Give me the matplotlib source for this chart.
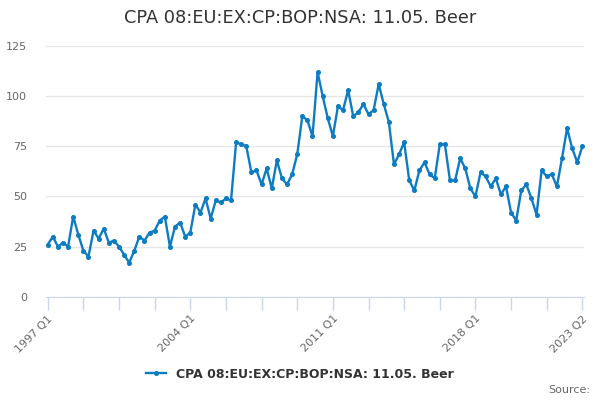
import matplotlib
matplotlib.use("Agg")
import matplotlib.pyplot as plt
import numpy as np

# quarterly values, 1997 Q1 .. 2023 Q2
values = [
    26, 30, 25, 27,   # 1997
    25, 40, 31, 23,   # 1998
    20, 33, 29, 34,   # 1999
    27, 28, 25, 21,   # 2000
    17, 23, 30, 28,   # 2001
    32, 33, 38, 40,   # 2002
    25, 35, 37, 30,   # 2003
    32, 46, 42, 49,   # 2004
    39, 48, 47, 49,   # 2005
    48, 77, 76, 75,   # 2006
    62, 63, 56, 64,   # 2007
    54, 68, 59, 56,   # 2008
    61, 71, 90, 88,   # 2009
    80, 112, 100, 89, # 2010
    80, 95, 93, 103,  # 2011
    90, 92, 96, 91,   # 2012
    93, 106, 96, 87,  # 2013
    66, 71, 77, 58,   # 2014
    53, 63, 67, 61,   # 2015
    59, 76, 76, 58,   # 2016
    58, 69, 64, 54,   # 2017
    50, 62, 60, 55,   # 2018
    59, 51, 55, 42,   # 2019
    38, 53, 56, 49,   # 2020
    41, 63, 60, 61,   # 2021
    55, 69, 84, 74,   # 2022
    67, 75,           # 2023
]
quarters = [f"{1997 + i // 4} Q{i % 4 + 1}" for i in range(len(values))]
label_quarters = ["1997 Q1", "2004 Q1", "2011 Q1", "2018 Q1", "2023 Q2"]
yticks = [0, 25, 50, 75, 100, 125]

title = "CPA 08:EU:EX:CP:BOP:NSA: 11.05. Beer"
color = "#0d7cc1"

fig = plt.figure(figsize=(6, 4), dpi=100)
ax = fig.add_axes([0.077, 0.258, 0.897, 0.627])

x = np.arange(len(values))
ax.plot(x, values, color=color, lw=1.7, marker="o", ms=2.6, label=title)

ax.set_xlim(-0.3, len(values) - 1 + 0.4)
ax.set_ylim(0, 125)
ax.set_yticks(yticks)
ax.set_yticklabels([str(v) for v in yticks], color="#666666", fontsize=8)
ax.grid(axis="y", color="#e6e6e6", lw=1)
ax.set_axisbelow(True)
ax.tick_params(axis="y", length=0, pad=14)

minor = sorted(set(list(range(0, len(values), 7)) + [len(values) - 1]))
ax.set_xticks(minor)
ax.set_xticklabels([quarters[i] if quarters[i] in label_quarters else "" for i in minor],
                   rotation=45, ha="right", rotation_mode="anchor",
                   color="#666666", fontsize=8)
ax.tick_params(axis="x", length=9, color="#ccd6eb", width=1, pad=3)

for s in ["top", "right", "left"]:
    ax.spines[s].set_visible(False)
ax.spines["bottom"].set_color("#ccd6eb")

fig.text(0.5, 0.955, title, ha="center", va="center", fontsize=12.8, color="#333333")
leg = fig.legend(loc="center", bbox_to_anchor=(0.5, 0.065), frameon=False,
                 prop={"weight": "bold", "size": 9}, handlelength=1.6)
for t in leg.get_texts():
    t.set_color("#333333")
fig.text(0.983, 0.025, "Source:", ha="right", va="center", fontsize=8, color="#666666")

fig.savefig("out.png", dpi=100)
